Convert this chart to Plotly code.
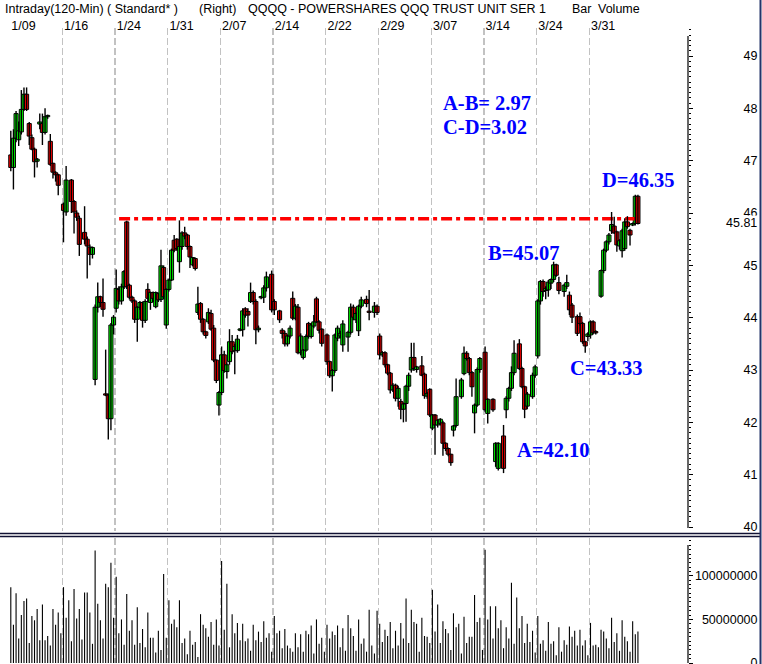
import plotly.graph_objects as go

# ---------------- data ----------------
header_parts = ["Intraday(120-Min) ( Standard* )", "(Right)",
                "QQQQ - POWERSHARES QQQ TRUST UNIT SER 1", "Bar", "Volume"]
week_labels = ["1/09", "1/16", "1/24", "1/31", "2/07", "2/14", "2/22",
               "2/29", "3/07", "3/14", "3/24", "3/31"]
bars_per_week = 20

bar_idx = [0, 1, 2, 3, 4, 5, 6, 7, 8, 9, 10, 11, 12, 13, 14, 15, 16, 17, 18,
           20, 21, 23, 24, 25, 26, 28, 29, 30, 31, 32, 33, 34, 35, 36, 37, 38, 39,
           40, 41, 42, 43, 44, 45, 46, 47, 48, 49, 50, 51, 52, 53, 54, 55, 56, 57, 58, 59,
           60, 61, 62, 63, 64, 65, 66, 67, 68, 69, 70, 71, 72, 73, 74, 75, 76, 77, 78, 79,
           80, 81, 82, 83, 84, 85, 86, 87, 88, 89, 90, 91, 92, 93, 94, 95, 96, 97,
           99, 100, 102, 103, 104, 105, 106, 107, 108, 109, 110, 111, 112, 113, 114, 115, 116, 117, 118,
           120, 121, 122, 123, 124, 125, 126, 128, 129, 130, 131, 132, 133, 135, 136, 138, 139,
           140, 141, 142, 143, 144, 145, 146, 147, 148, 149, 150, 151, 152, 153, 154, 156, 157, 158, 159,
           160, 161, 162, 163, 164, 165, 166, 167, 168, 169, 171, 172, 173, 174, 175, 176, 177, 178,
           180, 181, 183, 184, 185, 187, 188, 189, 190, 191, 193, 194, 195, 196, 198, 199,
           200, 201, 202, 203, 204, 205, 206, 207, 208, 210, 211, 212, 213, 215, 216, 217, 218, 219, 220, 221, 222,
           224, 225, 226, 227, 228, 229, 230, 231, 232, 233, 234, 235, 236, 237, 238]

opens = [47.11, 46.87, 47.43, 47.40, 47.55, 47.98, 48.27, 47.71, 47.44, 47.22, 46.99, 47.70, 47.71, 47.54, 47.84, 47.37, 46.95, 46.77, 46.73,
         46.17, 46.02, 46.63, 46.22, 46.00, 45.90, 45.63, 45.50, 45.35, 45.21, 42.82, 44.20, 44.40, 44.29, 42.54, 42.52, 42.07, 43.86,
         44.18, 44.54, 44.32, 44.59, 45.83, 44.62, 44.39, 44.32, 43.97, 44.20, 44.29, 43.95, 44.54, 44.29, 44.48, 44.21, 44.46, 44.35, 44.96, 43.86,
         44.54, 44.72, 45.48, 45.50, 45.07, 45.36, 45.62, 45.58, 45.36, 45.01, 45.13, 44.10, 44.27, 43.97, 43.73, 43.92, 44.08, 43.80, 43.19, 42.33,
         42.57, 43.29, 42.97, 43.16, 43.54, 43.37, 43.37, 43.76, 43.77, 44.17, 44.12, 44.31, 44.48, 44.31, 43.77, 44.38, 44.39, 44.57,
         44.83, 44.31, 44.13, 43.76, 43.70, 43.50, 43.65, 44.37, 43.99, 44.20, 43.33, 43.24, 43.38, 43.89, 43.64, 43.84, 44.36, 43.92, 43.78,
         43.67, 43.16, 42.89, 42.99, 43.61, 43.65, 43.48, 43.63, 43.72, 44.20, 43.96, 43.75, 44.22, 44.35, 44.12, 44.10, 44.22,
         43.65, 43.29, 43.33, 43.10, 42.94, 42.62, 42.71, 42.46, 42.40, 42.25, 42.36, 42.69, 43.00, 43.24, 43.01, 43.08, 42.92, 42.50, 42.63,
         41.89, 42.14, 41.95, 41.98, 41.99, 41.60, 41.50, 41.39, 41.85, 41.94, 42.49, 42.93, 43.32, 43.22, 42.95, 42.18, 42.33, 43.01,
         43.34, 42.17, 42.44, 41.25, 41.12, 41.74, 42.24, 42.46, 42.65, 42.95, 43.50, 43.03, 42.68, 42.31, 42.49, 42.90,
         43.27, 44.32, 44.69, 44.52, 44.53, 44.66, 44.73, 45.01, 44.67, 44.50, 44.60, 44.43, 44.24, 44.02, 44.02, 43.89, 43.54, 43.64, 43.67, 43.92, 43.72,
         44.41, 44.90, 45.29, 45.45, 45.66, 45.75, 45.64, 45.37, 45.28, 45.32, 45.83, 45.67, 45.77, 45.80, 46.32]

highs = [47.57, 47.60, 47.95, 47.75, 48.35, 48.40, 48.40, 47.74, 47.50, 47.25, 47.05, 47.90, 47.90, 48.00, 47.88, 47.51, 46.96, 46.80, 46.75,
         46.20, 46.90, 46.65, 46.25, 46.05, 45.95, 46.13, 45.55, 45.40, 45.36, 44.25, 44.67, 44.42, 44.75, 43.39, 42.55, 43.90, 44.05,
         44.92, 44.60, 44.65, 44.91, 45.85, 44.65, 44.42, 44.35, 44.22, 44.32, 44.31, 44.35, 44.66, 44.50, 44.50, 44.50, 44.48, 45.30, 45.00, 44.56,
         44.75, 45.32, 45.58, 45.52, 45.86, 45.65, 45.74, 45.60, 45.38, 45.16, 45.15, 44.59, 44.30, 43.99, 43.75, 44.18, 44.15, 43.86, 43.20, 42.60,
         43.45, 43.37, 43.15, 43.78, 43.67, 43.50, 43.67, 43.80, 44.18, 44.20, 44.18, 44.67, 44.52, 44.35, 43.85, 44.42, 44.62, 44.88,
         44.90, 44.35, 44.15, 43.80, 43.75, 43.68, 43.85, 44.50, 44.26, 44.26, 43.70, 43.40, 43.68, 43.92, 43.90, 44.05, 44.40, 43.95, 43.80,
         43.70, 43.18, 43.02, 43.70, 43.85, 43.75, 43.95, 43.75, 44.27, 44.25, 44.10, 44.25, 44.40, 44.42, 44.53, 44.30, 44.25,
         43.70, 43.36, 43.36, 43.12, 42.96, 42.75, 42.74, 42.70, 42.45, 42.38, 42.72, 42.95, 43.52, 43.52, 43.08, 43.27, 42.95, 42.58, 42.65,
         42.16, 42.16, 42.06, 42.08, 42.03, 41.62, 41.52, 41.40, 41.95, 42.84, 42.85, 43.45, 43.36, 43.25, 42.98, 42.36, 43.05, 43.25,
         43.45, 42.46, 42.46, 41.62, 41.62, 41.95, 42.50, 42.68, 43.07, 43.57, 43.59, 43.06, 42.70, 42.58, 42.95, 43.10,
         44.35, 44.72, 44.73, 44.60, 44.72, 44.75, 45.07, 45.03, 44.78, 44.65, 44.82, 44.50, 44.28, 44.06, 44.10, 43.92, 43.56, 43.72, 43.95, 43.95, 43.76,
         44.92, 45.32, 45.48, 45.62, 46.02, 45.93, 45.66, 45.50, 45.70, 45.90, 45.94, 45.70, 45.82, 46.35, 46.35]

lows = [46.80, 46.45, 47.35, 47.28, 47.50, 47.95, 47.95, 47.30, 47.20, 46.68, 46.87, 47.60, 47.30, 47.50, 47.80, 46.90, 46.66, 46.60, 46.34,
        45.44, 45.95, 46.00, 45.61, 45.85, 45.18, 45.40, 44.75, 45.00, 45.13, 42.71, 44.10, 44.20, 44.02, 42.50, 41.67, 41.85, 43.68,
        44.10, 44.25, 44.25, 44.55, 44.55, 44.35, 44.28, 43.90, 43.54, 44.15, 43.81, 43.90, 44.30, 44.15, 44.30, 44.18, 44.30, 44.30, 44.35, 43.79,
        44.50, 44.70, 45.25, 45.28, 44.86, 45.30, 45.50, 45.30, 44.95, 44.98, 44.90, 44.05, 43.90, 43.68, 43.60, 43.88, 43.75, 43.15, 42.75, 42.13,
        42.52, 42.95, 42.84, 43.10, 43.30, 42.92, 43.33, 43.74, 43.64, 44.00, 43.83, 44.28, 44.25, 43.49, 43.72, 44.35, 44.28, 44.50,
        44.10, 44.05, 43.90, 43.60, 43.45, 43.45, 43.60, 43.95, 43.95, 43.30, 43.28, 43.20, 43.35, 43.60, 43.60, 43.80, 43.90, 43.70, 43.45,
        43.10, 42.85, 42.59, 42.95, 43.55, 43.60, 43.35, 43.35, 43.68, 43.95, 43.90, 43.65, 44.18, 44.20, 43.95, 44.00, 44.05,
        43.20, 43.25, 43.05, 42.90, 42.55, 42.58, 42.40, 42.30, 42.06, 42.00, 42.01, 42.60, 42.95, 42.98, 42.95, 42.88, 42.45, 42.45, 42.10,
        41.85, 41.38, 41.90, 41.94, 41.36, 41.45, 41.35, 41.17, 41.73, 41.90, 42.45, 42.90, 43.18, 42.90, 42.49, 41.79, 42.30, 42.95,
        42.20, 41.98, 42.20, 41.15, 41.08, 41.03, 42.08, 42.40, 42.60, 42.90, 43.00, 42.65, 42.08, 42.25, 42.45, 42.85,
        43.22, 44.25, 44.40, 44.35, 44.40, 44.55, 44.68, 44.78, 44.45, 44.40, 44.55, 44.05, 43.90, 43.65, 43.85, 43.50, 43.33, 43.55, 43.60, 43.68, 43.68,
        44.38, 44.85, 45.25, 45.40, 45.60, 45.60, 45.26, 45.30, 45.15, 45.28, 45.70, 45.38, 45.75, 45.76, 45.78]

closes = [46.87, 47.43, 47.90, 47.57, 47.98, 48.27, 47.98, 47.47, 47.22, 46.98, 47.03, 47.74, 47.54, 47.84, 47.86, 46.93, 46.78, 46.73, 46.53,
          46.05, 46.63, 46.22, 46.02, 45.92, 45.40, 45.50, 45.37, 45.21, 45.34, 44.20, 44.40, 44.29, 44.16, 42.52, 42.07, 43.86, 44.01,
          44.56, 44.32, 44.59, 44.88, 44.59, 44.39, 44.32, 43.97, 44.20, 44.29, 43.95, 44.31, 44.37, 44.48, 44.37, 44.48, 44.34, 44.99, 44.40, 44.54,
          44.72, 45.29, 45.29, 45.32, 45.36, 45.62, 45.56, 45.36, 45.16, 45.15, 44.94, 44.26, 43.97, 43.73, 43.66, 44.10, 43.78, 43.19, 42.80, 42.57,
          43.29, 42.99, 43.10, 43.54, 43.35, 43.45, 43.59, 43.78, 44.13, 44.05, 44.05, 44.48, 44.31, 43.77, 43.80, 44.40, 44.57, 44.78,
          44.15, 44.15, 43.96, 43.70, 43.50, 43.65, 43.80, 43.99, 44.22, 43.33, 43.65, 43.38, 43.64, 43.65, 43.86, 43.92, 43.92, 43.76, 43.51,
          43.16, 42.89, 42.99, 43.67, 43.80, 43.70, 43.88, 43.72, 44.20, 44.01, 44.08, 44.22, 44.34, 44.27, 44.10, 44.22, 44.10,
          43.29, 43.33, 43.10, 42.94, 42.62, 42.71, 42.46, 42.65, 42.25, 42.35, 42.69, 42.90, 43.24, 43.03, 43.06, 42.90, 42.51, 42.55, 42.14,
          42.14, 41.95, 42.04, 42.06, 41.60, 41.50, 41.39, 41.23, 41.93, 42.49, 42.81, 43.32, 43.22, 42.95, 42.68, 42.33, 43.01, 43.22,
          42.24, 42.44, 42.24, 41.60, 41.60, 41.12, 42.46, 42.65, 42.95, 43.32, 43.03, 42.68, 42.25, 42.54, 42.90, 43.06,
          44.32, 44.69, 44.50, 44.56, 44.68, 44.73, 45.01, 44.81, 44.52, 44.62, 44.67, 44.15, 44.01, 43.70, 43.89, 43.54, 43.46, 43.69, 43.92, 43.71, 43.71,
          44.90, 45.29, 45.45, 45.58, 45.78, 45.62, 45.39, 45.47, 45.66, 45.83, 45.74, 45.58, 45.80, 46.32, 45.80]

# volume per 120-min bar, millions of shares (bars 0..238)
volume_m = [87, 44, 80, 28, 55, 71, 74, 23, 54, 49, 62, 26, 67, 26, 31, 20, 62, 44, 58, 34,
            87, 52, 72, 25, 85, 51, 62, 27, 81, 81, 58, 22, 129, 68, 49, 28, 91, 87, 115, 52,
            99, 34, 50, 21, 79, 37, 49, 21, 64, 23, 39, 18, 58, 29, 29, 12, 37, 15, 102, 29,
            72, 45, 50, 41, 72, 23, 28, 10, 37, 21, 24, 7, 56, 44, 40, 30, 47, 21, 50, 20,
            117, 38, 91, 18, 56, 34, 46, 26, 45, 25, 28, 14, 44, 26, 36, 24, 48, 29, 34, 13,
            54, 34, 37, 17, 39, 20, 17, 13, 34, 18, 33, 13, 37, 33, 43, 11, 50, 22, 29, 13,
            44, 28, 36, 32, 43, 18, 40, 14, 55, 40, 31, 14, 50, 22, 28, 13, 61, 20, 11, 60,
            45, 24, 38, 31, 47, 17, 37, 20, 46, 28, 74, 23, 61, 47, 45, 13, 52, 31, 30, 23,
            84, 36, 67, 23, 48, 39, 34, 15, 57, 41, 45, 11, 53, 23, 30, 30, 78, 47, 52, 15,
            130, 50, 65, 28, 65, 40, 49, 17, 41, 28, 92, 22, 75, 40, 54, 23, 45, 24, 37, 12,
            54, 22, 26, 14, 47, 22, 25, 9, 41, 13, 26, 21, 42, 30, 37, 20, 38, 20, 26, 9,
            46, 20, 21, 18, 38, 36, 28, 17, 52, 24, 34, 14, 49, 30, 25, 13, 48, 33, 36]

price_ticks = [40, 41, 42, 43, 44, 45, 46, 47, 48, 49]
volume_ticks = [0, 50000000, 100000000]
volume_tick_text = ["0", "50000000", "100000000"]
last_marked_price = 45.81
resist_level = 45.89
resist_from_bar = 41.1
resist_to_bar = 237.6

notes = [  # text, bar, price, anchor
    ("A-B= 2.97", 163.3, 48.10, "left"),
    ("C-D=3.02", 163.3, 47.64, "left"),
    ("D=46.35", 238.4, 46.63, "center"),
    ("B=45.07", 194.4, 45.24, "center"),
    ("C=43.33", 226.1, 43.04, "center"),
    ("A=42.10", 206.1, 41.47, "center"),
]

# ---------------- geometry (pixels of the 762x664 page) ----------------
W, H = 762, 664
BAR_PX, BAR0_PX, PLOT_R_PX = 2.635, 10.8, 688
PX_PER_PT, Y40_PX = 52.33, 527
PRICE_TOP, PRICE_BOT = 28, 531
VOL_TOP, VOL_BOT, VOL_PER_PX = 538, 663, 1.147e6


def py(p):
    return (H - p) / H


def price_at(p):
    return 40 + (Y40_PX - p) / PX_PER_PT


xr = [(0 - BAR0_PX) / BAR_PX, (PLOT_R_PX - BAR0_PX) / BAR_PX]
axis_x = PLOT_R_PX / W
label_x = 757.5 / W

FONT = "Liberation Sans, Arial, sans-serif"
fig = go.Figure()

# wicks
wx, wy = [], []
for b, h, l in zip(bar_idx, highs, lows):
    wx += [b, b, None]
    wy += [l, h, None]
fig.add_trace(go.Scatter(x=wx, y=wy, mode="lines", line=dict(color="black", width=1.4),
                         xaxis="x3", yaxis="y", hoverinfo="skip", showlegend=False))

# bodies
base = [min(o, c) for o, c in zip(opens, closes)]
hgt = [max(abs(c - o), 0.025) for o, c in zip(opens, closes)]
cols = ["#00ff00" if c >= o else "#ff0000" for o, c in zip(opens, closes)]
fig.add_trace(go.Bar(x=bar_idx, y=hgt, base=base, width=1.55,
                     marker=dict(color=cols, line=dict(color="black", width=1.0)),
                     xaxis="x", yaxis="y", hoverinfo="skip", showlegend=False))

# resistance line
fig.add_trace(go.Scatter(x=[resist_from_bar, resist_to_bar], y=[resist_level, resist_level],
                         mode="lines", line=dict(color="#ff0000", width=3.4, dash="11px,4px,4px,4px"),
                         xaxis="x", yaxis="y3", hoverinfo="skip", showlegend=False))

# volume
fig.add_trace(go.Bar(x=list(range(len(volume_m))), y=[v * 1e6 for v in volume_m], width=0.42,
                     marker=dict(color="black", line=dict(width=0)),
                     xaxis="x2", yaxis="y2", hoverinfo="skip", showlegend=False))
# empty trace so that the volume label axis is built
fig.add_trace(go.Scatter(x=[], y=[], xaxis="x2", yaxis="y4", hoverinfo="skip", showlegend=False))

grid_vals = [k * bars_per_week - 0.46 for k in range(1, len(week_labels))]
label_vals = [k * bars_per_week + 4.8 for k in range(len(week_labels))]

common_x = dict(range=xr, domain=[0, axis_x], showline=False, zeroline=False,
                fixedrange=True)
price_range = [price_at(PRICE_BOT), price_at(PRICE_TOP)]
vol_range = [0, (VOL_BOT - VOL_TOP) * VOL_PER_PX]
tick_font = dict(family=FONT, size=12.5, color="black")

fig.update_layout(
    width=W, height=H, margin=dict(l=0, r=0, t=0, b=0, autoexpand=False),
    paper_bgcolor="white", plot_bgcolor="white", barmode="overlay", showlegend=False,
    xaxis=dict(**common_x, anchor="y", tickvals=grid_vals, showticklabels=False, ticks="",
               showgrid=True, gridcolor="#c2c2c2", gridwidth=1.3, griddash="7px,3px"),
    xaxis2=dict(**common_x, anchor="y2", tickvals=grid_vals, showticklabels=False, ticks="",
                showgrid=True, gridcolor="#c2c2c2", gridwidth=1.3, griddash="7px,3px"),
    xaxis3=dict(**common_x, anchor="y", overlaying="x", side="top", tickvals=label_vals,
                ticktext=week_labels, ticks="", showgrid=False, ticklabelstandoff=-5,
                tickfont=tick_font),
    yaxis=dict(domain=[py(PRICE_BOT), py(PRICE_TOP)], range=price_range, anchor="free",
               position=axis_x, side="right", showgrid=False, zeroline=False, showline=False,
               tickvals=price_ticks, ticks="outside", ticklen=4, tickcolor="black",
               showticklabels=False,
               minor=dict(dtick=0.1, tick0=40, ticks="outside", ticklen=2, tickcolor="black"),
               fixedrange=True),
    yaxis3=dict(range=price_range, overlaying="y", anchor="free", position=label_x, side="left",
                showgrid=False, zeroline=False, showline=False, ticks="",
                tickvals=price_ticks, tickfont=tick_font, fixedrange=True),
    yaxis2=dict(domain=[py(VOL_BOT), py(VOL_TOP)], range=vol_range, anchor="free",
                position=axis_x, side="right", showgrid=False, zeroline=False, showline=False,
                tickvals=volume_ticks, ticks="outside", ticklen=4, tickcolor="black",
                showticklabels=False,
                minor=dict(dtick=5e6, tick0=0, ticks="outside", ticklen=2, tickcolor="black"),
                fixedrange=True),
    yaxis4=dict(range=vol_range, overlaying="y2", anchor="free", position=label_x, side="left",
                showgrid=False, zeroline=False, showline=False, ticks="",
                tickvals=volume_ticks, ticktext=volume_tick_text, ticklabeloverflow="allow",
                tickfont=tick_font, fixedrange=True),
)

shapes = [
    # price axis line
    dict(type="line", xref="paper", yref="y", x0=axis_x, x1=axis_x,
         y0=price_at(528), y1=price_at(36), line=dict(color="black", width=1.2)),
    # volume axis line
    dict(type="line", xref="paper", yref="y2", x0=axis_x, x1=axis_x,
         y0=0, y1=(VOL_BOT - 545) * VOL_PER_PX, line=dict(color="black", width=1.2)),
    # panel separator (double line)
    dict(type="line", xref="paper", yref="paper", x0=0, x1=760 / W, y0=py(533.5), y1=py(533.5),
         line=dict(color="#111133", width=1.6)),
    dict(type="line", xref="paper", yref="paper", x0=0, x1=760 / W, y0=py(536.5), y1=py(536.5),
         line=dict(color="#111133", width=1.6)),
    # right window border
    dict(type="line", xref="paper", yref="paper", x0=760.5 / W, x1=760.5 / W, y0=0, y1=1,
         line=dict(color="#24346a", width=2)),
]
fig.update_layout(shapes=shapes)

ann = []
header_x = [3, 197, 246, 570, 596]
for txt, x0 in zip(header_parts, header_x):
    ann.append(dict(text=txt, xref="paper", yref="paper", x=x0 / W, y=py(8.5),
                    xanchor="left", yanchor="middle", showarrow=False,
                    font=dict(family=FONT, size=12.5, color="black")))
ann.append(dict(text=f"{last_marked_price:.2f}", xref="paper", yref="y3", x=label_x,
                y=last_marked_price, xanchor="right", yanchor="middle", showarrow=False,
                bgcolor="white", borderpad=0, font=tick_font))
for txt, bx, pr, anc in notes:
    ann.append(dict(text=f"<b>{txt}</b>", xref="x", yref="y", x=bx, y=pr, xanchor=anc,
                    yanchor="middle", showarrow=False,
                    font=dict(family="Liberation Serif, Times New Roman, serif", size=20.5,
                              color="#0000ff")))
fig.update_layout(annotations=ann)

fig.write_html("out.html", config={"displayModeBar": False, "staticPlot": True},
               post_script="document.body.style.margin='0';document.body.style.padding='0';")
